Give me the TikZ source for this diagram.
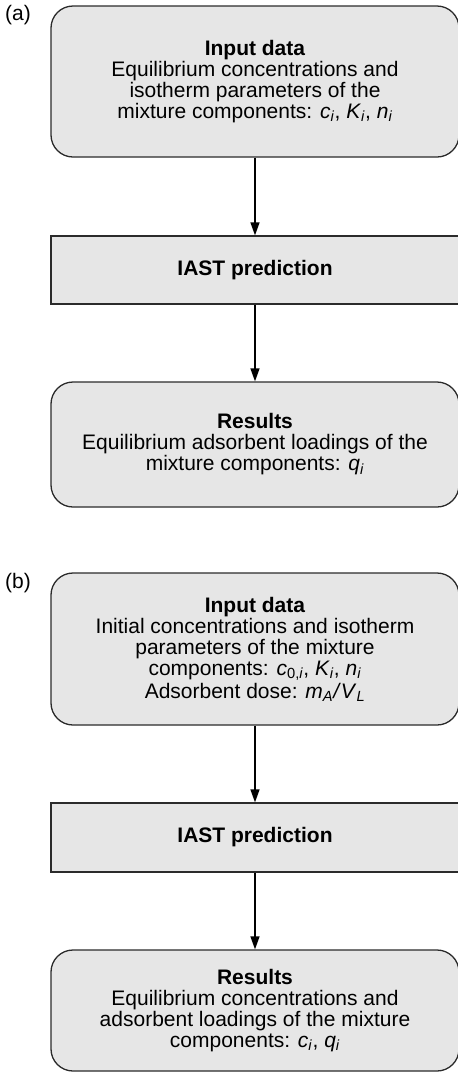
\documentclass[tikz,border=0pt]{standalone}
\usepackage{fontspec}
\setmainfont{Liberation Sans}
\usepackage{xcolor}
\definecolor{boxfill}{HTML}{E6E6E6}
\definecolor{boxline}{HTML}{2B2B2B}
\usetikzlibrary{arrows.meta, positioning}
\newcommand{\ivar}[2]{\textit{#1}\textsubscript{\textit{#2}}}

\begin{document}
\begin{tikzpicture}[x=1pt, y=-1pt,
  every node/.style={font=\fontsize{21}{21}\selectfont},
  roundbox/.style={draw=boxline, fill=boxfill, line width=1.3pt, rounded corners=22pt,
                   minimum width=408pt, align=center, inner sep=0pt},
  plainbox/.style={draw=boxline, fill=boxfill, line width=1.3pt,
                   minimum width=408pt, align=center, inner sep=0pt},
  flow/.style={-{Triangle[length=13pt,width=9pt]}, line width=1.4pt, black}
]
  \useasboundingbox (0,0) rectangle (458,1072);

  % panel (a)
  \node (laba) at (18,15) {(a)};
  \node[roundbox, minimum height=151pt] (inputa) at (255,81.5)
    {\textbf{Input data}\\ Equilibrium concentrations and\\ isotherm parameters of the\\
     mixture components: \ivar{c}{i}, \ivar{K}{i}, \ivar{n}{i}};
  \node[plainbox, minimum height=68pt] (iasta) at (255,270) {\textbf{IAST prediction}};
  \node[roundbox, minimum height=125pt] (resa) at (255,444.5)
    {\textbf{Results}\\ Equilibrium adsorbent loadings of the\\ mixture components: \ivar{q}{i}};

  \draw[flow] (inputa) -- (iasta);
  \draw[flow] (iasta) -- (resa);

  % panel (b)
  \node (labb) at (18,583) {(b)};
  \node[roundbox, minimum height=152pt] (inputb) at (255,649)
    {\textbf{Input data}\\ Initial concentrations and isotherm\\ parameters of the mixture\\
     components: \textit{c}\textsubscript{0,\textit{i}}, \ivar{K}{i}, \ivar{n}{i}\\[2pt]
     Adsorbent dose: \ivar{m}{A}\textit{/}\ivar{V}{L}};
  \node[plainbox, minimum height=69pt] (iastb) at (255,837.5) {\textbf{IAST prediction}};
  \node[roundbox, minimum height=121pt] (resb) at (255,1010.5)
    {\textbf{Results}\\ Equilibrium concentrations and\\ adsorbent loadings of the mixture\\
     components: \ivar{c}{i}, \ivar{q}{i}};

  \draw[flow] (inputb) -- (iastb);
  \draw[flow] (iastb) -- (resb);
\end{tikzpicture}
\end{document}
